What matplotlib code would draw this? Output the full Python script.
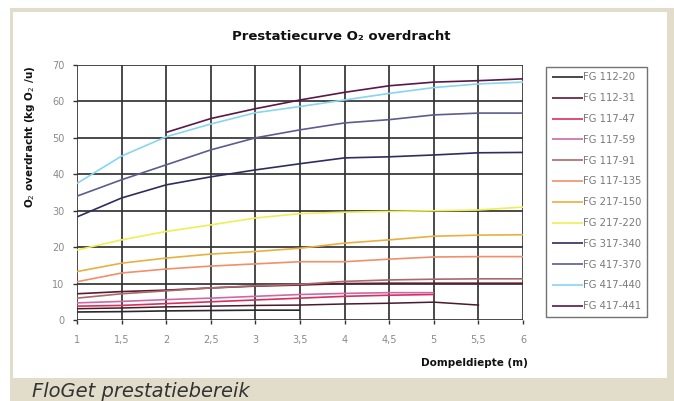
import matplotlib
matplotlib.use("Agg")
import matplotlib.pyplot as plt
from matplotlib.patches import Rectangle

# ---------------- data ----------------
depth = [1, 1.5, 2, 2.5, 3, 3.5, 4, 4.5, 5, 5.5, 6]
x_ticks = [1, 1.5, 2, 2.5, 3, 3.5, 4, 4.5, 5, 5.5, 6]
x_ticklabels = ["1", "1,5", "2", "2,5", "3", "3,5", "4", "4,5", "5", "5,5", "6"]
y_ticks = [0, 10, 20, 30, 40, 50, 60, 70]

labels = ["FG 112-20", "FG 112-31", "FG 117-47", "FG 117-59", "FG 117-91",
          "FG 117-135", "FG 217-150", "FG 217-220", "FG 317-340",
          "FG 417-370", "FG 417-440", "FG 417-441"]

fg112_20 = [2.2, 2.3, 2.5, 2.6, 2.7, 2.7]                     # 1 .. 3.5
fg112_31 = [7.2, 7.8, 8.2, 8.8, 9.3, 9.6, 10.0, 10.1, 10.1, 10.1, 10.1]
fg117_47 = [3.8, 4.0, 4.5, 5.0, 5.5, 6.0, 6.5, 6.8, 7.0]       # 1 .. 5
fg117_59 = [4.7, 5.1, 5.6, 6.0, 6.5, 7.0, 7.3, 7.5, 7.5]       # 1 .. 5
fg117_91 = [6.0, 7.2, 8.0, 8.8, 9.4, 9.8, 10.6, 11.0, 11.2, 11.3, 11.3]
fg117_135 = [10.5, 12.9, 14.0, 14.8, 15.4, 16.0, 16.0, 16.7, 17.3, 17.4, 17.4]
fg217_150 = [13.3, 15.6, 17.0, 18.1, 18.8, 19.7, 21.1, 22.0, 23.0, 23.3, 23.4]
fg217_220 = [19.2, 22.0, 24.3, 26.1, 28.0, 29.2, 29.6, 29.8, 30.0, 30.2, 31.0]
fg317_340 = [28.3, 33.5, 37.1, 39.3, 41.2, 42.9, 44.5, 44.8, 45.3, 45.9, 46.0]
fg417_370 = [34.0, 38.5, 42.6, 46.7, 50.0, 52.2, 54.1, 55.0, 56.3, 56.8, 56.8]
fg417_440 = [37.5, 45.0, 50.3, 53.8, 56.9, 58.6, 60.4, 62.2, 63.8, 64.8, 65.3]
fg417_441 = [51.5, 55.3, 58.0, 60.4, 62.5, 64.3, 65.3, 65.7, 66.2]  # 2 .. 6
extra_low = [3.1, 3.3, 3.6, 3.8, 4.0, 4.1, 4.4, 4.6, 4.9, 4.1]    # 1 .. 5.5 (unlabelled)

series = [
    (labels[0], depth[:6], fg112_20, "#2a2a2a"),
    (labels[1], depth, fg112_31, "#5e1a32"),
    (labels[2], depth[:9], fg117_47, "#d8305a"),
    (labels[3], depth[:9], fg117_59, "#cc6aa8"),
    (labels[4], depth, fg117_91, "#aa6a6a"),
    (labels[5], depth, fg117_135, "#f0906a"),
    (labels[6], depth, fg217_150, "#e8b040"),
    (labels[7], depth, fg217_220, "#eeee55"),
    (labels[8], depth, fg317_340, "#2e2e5e"),
    (labels[9], depth, fg417_370, "#5c5c8e"),
    (labels[10], depth, fg417_440, "#86d6f0"),
    (labels[11], depth[2:], fg417_441, "#5a1848"),
]

W, H = 674, 401
fig = plt.figure(figsize=(W / 100, H / 100), dpi=100)
fig.patch.set_facecolor("white")

beige = "#e2ddcb"
fig.patches.append(Rectangle((10 / W, 0), 1, 1 - 8 / H, transform=fig.transFigure,
                             facecolor=beige, edgecolor="none", zorder=-10))
fig.patches.append(Rectangle((13 / W, 1 - 378 / H), (667 - 13) / W, (378 - 12) / H,
                             transform=fig.transFigure, facecolor="white",
                             edgecolor="none", zorder=-9))

ax = fig.add_axes([77 / W, 1 - 320 / H, (523 - 77) / W, (320 - 65) / H])
ax.set_facecolor("white")

for lab, xs, ys, col in series:
    ax.plot(xs, ys, color=col, lw=1.2, label=lab, zorder=3, solid_capstyle="butt")
ax.plot(depth[:10], extra_low, color="#4a1a2e", lw=1.1, zorder=3, label="_nolegend_")

ax.set_xlim(1, 6)
ax.set_ylim(0, 70)
ax.set_xticks(x_ticks)
ax.set_xticklabels(x_ticklabels)
ax.set_yticks(y_ticks)
ax.grid(True, color="#333333", lw=1.25, zorder=1)
ax.set_axisbelow(True)
for s in ax.spines.values():
    s.set_visible(False)
ax.tick_params(axis="both", length=3, width=1, color="#333333",
               labelsize=7, labelcolor="#8a8a8a")
ax.tick_params(axis="x", pad=8)
ax.tick_params(axis="y", pad=6)

fig.text(341 / W, 1 - 37 / H, "Prestatiecurve O₂ overdracht", ha="center", va="center",
         fontsize=9.5, fontweight="bold", color="#111111")
fig.text(30 / W, 1 - 137 / H, "O$_2$ overdracht (kg O$_2$ /u)", rotation=90,
         ha="center", va="center", fontsize=7.5, fontweight="bold", color="#111111")
fig.text(474 / W, 1 - 363 / H, "Dompeldiepte (m)", ha="center", va="center",
         fontsize=7.5, fontweight="bold", color="#111111")
fig.text(32 / W, 1 - 397 / H, "FloGet prestatiebereik", ha="left", va="baseline",
         fontsize=14, style="italic", color="#333333")

leg = fig.legend(loc="upper left", bbox_to_anchor=(546 / W, 1 - 67 / H),
                 bbox_transform=fig.transFigure, borderaxespad=0,
                 fontsize=7.2, labelspacing=1.08,
                 handlelength=3.1, handletextpad=0.05, borderpad=0.55,
                 fancybox=False, frameon=True, edgecolor="#505050")
leg.get_frame().set_linewidth(1.0)
for t in leg.get_texts():
    t.set_color("#7a7a7a")

fig.savefig("out.png", dpi=100, facecolor=fig.get_facecolor())
